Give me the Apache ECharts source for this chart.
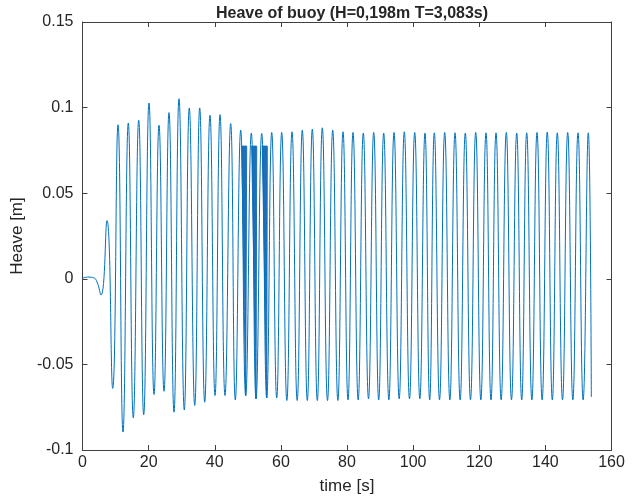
<!DOCTYPE html>
<html>
<head>
<meta charset="utf-8">
<script src="https://cdn.jsdelivr.net/npm/echarts@6/dist/echarts.min.js"></script>
<style>
html,body{margin:0;padding:0;background:#fff;}
#c{width:638px;height:500px;}
</style>
</head>
<body>
<div id="c"></div>
<script>
// ---- data ----
var titleText = 'Heave of buoy (H=0,198m T=3,083s)';
var xName = 'time [s]';
var yName = 'Heave [m]';
var xTicks = [0, 20, 40, 60, 80, 100, 120, 140, 160];
var yTicks = [-0.1, -0.05, 0, 0.05, 0.1, 0.15];

// start-up transient (before first full wave)
var startTimes  = [0, 1.5, 3.0, 4.2, 5.6, 7.4, 9.13];
var startValues = [0.0003, 0.001, 0.0008, -0.001, -0.0095, 0.034, -0.064];

// wave crests
var peakTimes = [10.74, 13.85, 17.00, 20.11, 23.14, 26.16, 29.19, 32.30, 35.45, 38.56,
  41.59, 44.82, 47.85, 51.06, 54.20, 57.23, 60.25, 63.37, 66.48, 69.51,
  72.53, 75.68, 78.79, 81.82, 84.93, 88.08, 91.10, 94.22, 97.33, 100.48,
  103.59, 106.41, 109.55, 112.67, 115.78, 118.93, 122.04, 125.07, 128.18, 131.33,
  134.35, 137.47, 140.58, 143.61, 146.75, 149.87, 152.98];
var peakValues = [0.090, 0.091, 0.0926, 0.1027, 0.0897, 0.0971, 0.1052, 0.0998, 0.0998, 0.0955,
  0.0959, 0.0907, 0.0868, 0.0851, 0.0849, 0.0855, 0.0855, 0.0859, 0.0868, 0.0874,
  0.0882, 0.0868, 0.0859, 0.0855, 0.0851, 0.0855, 0.0851, 0.0855, 0.0859, 0.0855,
  0.0851, 0.0853, 0.0855, 0.0853, 0.0851, 0.0855, 0.0853, 0.0853, 0.0855, 0.0851,
  0.0853, 0.0855, 0.0857, 0.0853, 0.0855, 0.0853, 0.0853];

// wave troughs (each after the crest of same index)
var troughTimes = [12.25, 15.36, 18.51, 21.63, 24.65, 27.67, 30.79, 33.94, 36.96, 40.08,
  43.10, 46.22, 49.36, 52.48, 55.71, 58.74, 61.81, 64.93, 68.00, 71.02,
  74.10, 77.24, 80.30, 83.38, 86.50, 89.59, 92.66, 95.78, 98.90, 102.03,
  105.00, 107.98, 111.11, 114.22, 117.35, 120.48, 123.55, 126.62, 129.75, 132.84,
  135.91, 139.02, 142.10, 145.18, 148.31, 151.42, 153.9];
var troughValues = [-0.0895, -0.0812, -0.0794, -0.0676, -0.0657, -0.0779, -0.0766, -0.0740, -0.0721, -0.0682,
  -0.0682, -0.0707, -0.0682, -0.0701, -0.0696, -0.0696, -0.0711, -0.0711, -0.0711, -0.0711,
  -0.0711, -0.0711, -0.0707, -0.0707, -0.0701, -0.0707, -0.0707, -0.0701, -0.0701, -0.0701,
  -0.0707, -0.0707, -0.0707, -0.0707, -0.0707, -0.0707, -0.0707, -0.0707, -0.0707, -0.0707,
  -0.0707, -0.0707, -0.0707, -0.0707, -0.0707, -0.0707, -0.0690];

// glitch segments (flat at ~0.0775 then drop to trough)
var glitchStart  = [48.15, 51.18, 54.38];
var glitchEnd    = [49.66, 52.69, 55.89];
var glitchLevel  = [0.0775, 0.0775, 0.0775];
var glitchTroughT = [49.36, 52.48, 55.71];
var glitchTroughV = [-0.0682, -0.0701, -0.0696];

// ---- build series data ----
var lineData = [];
for (var i = 0; i < startTimes.length; i++) lineData.push([startTimes[i], startValues[i]]);
for (var k = 0; k < peakTimes.length; k++) {
  lineData.push([peakTimes[k], peakValues[k]]);
  lineData.push([troughTimes[k], troughValues[k]]);
}
var glitchData = [];
for (var g = 0; g < glitchStart.length; g++) {
  glitchData.push([glitchStart[g], glitchEnd[g], glitchTroughT[g], glitchLevel[g], glitchTroughV[g]]);
}

var axisCol = '#404040';
var txtCol = '#262626';
var font = 'Liberation Sans, Arial, sans-serif';

function axisBase(extra) {
  var o = {
    axisLine: {show: true, onZero: false, lineStyle: {color: axisCol, width: 1}},
    axisTick: {show: true, inside: true, length: 5, lineStyle: {color: axisCol}},
    splitLine: {show: false}
  };
  for (var key in extra) o[key] = extra[key];
  return o;
}

var chart = echarts.init(document.getElementById('c'), null, {renderer: 'canvas'});
chart.setOption({
  animation: false,
  backgroundColor: '#fff',
  title: {
    text: titleText,
    left: 347, top: 1, textAlign: 'center',
    textStyle: {fontFamily: font, fontSize: 16, fontWeight: 'bold', color: txtCol}
  },
  grid: {left: 82.5, right: 26.5, top: 22, bottom: 48},
  xAxis: [axisBase({
    type: 'value', min: xTicks[0], max: xTicks[xTicks.length - 1], interval: xTicks[1] - xTicks[0], position: 'bottom',
    name: xName, nameLocation: 'middle', nameGap: 28,
    nameTextStyle: {fontFamily: font, fontSize: 17, color: txtCol},
    axisLabel: {fontFamily: font, fontSize: 16, color: txtCol, margin: 5}
  }), axisBase({
    type: 'value', min: xTicks[0], max: xTicks[xTicks.length - 1], interval: xTicks[1] - xTicks[0], position: 'top',
    axisLabel: {show: false}
  })],
  yAxis: [axisBase({
    type: 'value', min: yTicks[0], max: yTicks[yTicks.length - 1], interval: 0.05, position: 'left',
    name: yName, nameLocation: 'middle', nameGap: 47,
    nameTextStyle: {fontFamily: font, fontSize: 17, color: txtCol},
    axisLabel: {fontFamily: font, fontSize: 16, color: txtCol, margin: 9}
  }), axisBase({
    type: 'value', min: yTicks[0], max: yTicks[yTicks.length - 1], interval: 0.05, position: 'right',
    axisLabel: {show: false}
  })],
  series: [{
    type: 'line',
    data: lineData,
    smooth: 0.5,
    showSymbol: false,
    lineStyle: {color: '#0072BD', width: 1},
    silent: true
  }, {
    type: 'custom',
    data: glitchData,
    encode: {x: [0, 1, 2], y: [3, 4]},
    renderItem: function (params, api) {
      var a = api.coord([api.value(0), api.value(3)]);
      var b = api.coord([api.value(1), api.value(3)]);
      var c = api.coord([api.value(2), api.value(4)]);
      return {
        type: 'polygon',
        shape: {points: [a, b, c]},
        style: {fill: '#1f6fb8', stroke: '#1f6fb8', lineWidth: 1}
      };
    },
    silent: true
  }]
});
</script>
</body>
</html>
